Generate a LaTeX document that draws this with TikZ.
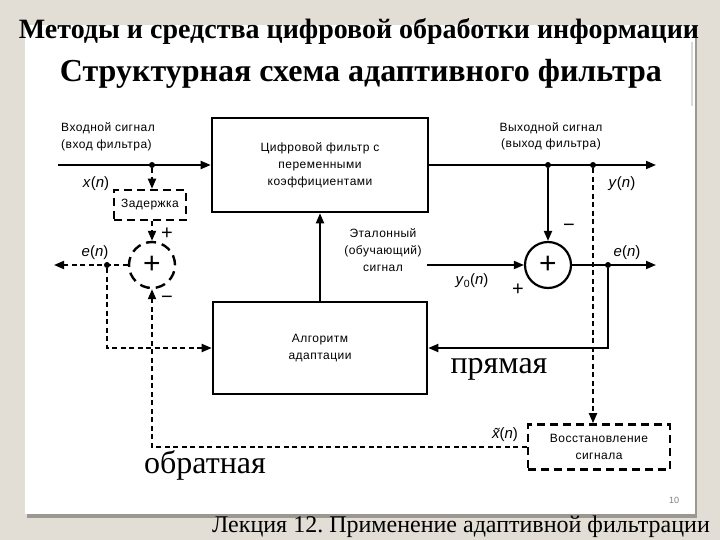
\documentclass[tikz,border=0pt]{standalone}
\usepackage{fontspec}
\setmainfont{Liberation Serif}
\setsansfont{Liberation Sans}[LetterSpace=4]
\newfontfamily\plainsans{Liberation Sans}
\usetikzlibrary{arrows.meta}
\definecolor{slidebg}{HTML}{E3DED5}
\definecolor{shadowc}{HTML}{9A9890}
\begin{document}
\begin{tikzpicture}[x=1pt,y=-1pt,
  blk/.style={draw, line width=2.6pt, minimum width=#1},
  dbox/.style={draw, line width=2.6pt, dash pattern=on 8pt off 5pt},
  sig/.style={line width=1.9pt, -{Triangle[length=10pt,width=8pt]}},
  dsig/.style={line width=1.9pt, dash pattern=on 5pt off 3.5pt, -{Triangle[length=10pt,width=8pt]}},
  lab/.style={font=\sffamily\fontsize{12}{17}\selectfont, align=center, inner sep=0pt},
  sl/.style={font=\plainsans\fontsize{15}{16}\selectfont, inner sep=0pt},
  pm/.style={font=\plainsans\fontsize{20}{20}\selectfont, inner sep=0pt},
  dotc/.style={circle, fill=black, inner sep=0pt, minimum size=6pt},
  sumc/.style={circle, minimum size=46pt, inner sep=0pt, font=\plainsans\fontsize{30}{30}\selectfont}
]
\useasboundingbox (0,0) rectangle (720,540);
\fill[slidebg] (0,0) rectangle (720,540);
% panel
\fill[shadowc] (27,27) rectangle (697,518);
\fill[white] (25,25) rectangle (695,514);
\draw[gray!30, line width=1.2pt] (692,42) -- (692,106);

% titles
\node[font=\bfseries\fontsize{28}{30}\selectfont, inner sep=0pt] (t1) at (359,31) {Методы и средства цифровой обработки информации};
\node[font=\bfseries\fontsize{32}{34}\selectfont, inner sep=0pt] (t2) at (361,74) {Структурная схема адаптивного фильтра};
\node[font=\fontsize{24}{26}\selectfont, inner sep=0pt] (t3) at (461,527) {Лекция 12.\ Применение адаптивной фильтрации};
\node[font=\fontsize{32}{34}\selectfont, inner sep=0pt] (pr) at (499,369) {прямая};
\node[font=\fontsize{32}{34}\selectfont, inner sep=0pt] (ob) at (205,465) {обратная};
\node[font=\plainsans\fontsize{9}{10}\selectfont, text=gray, inner sep=0pt] (num) at (674,500) {10};

% blocks
\node[blk=216pt, minimum height=94pt, lab] (filt) at (320,165) {Цифровой фильтр с\\переменными\\коэффициентами};
\node[blk=214pt, minimum height=92pt, lab] (alg) at (320,348) {Алгоритм\\адаптации};
\node[dbox, minimum width=142pt, minimum height=45pt, lab] (rest) at (599,447) {Восстановление\\сигнала};
\node[dbox, minimum width=72pt, minimum height=30pt, lab] (delay) at (150,205) {Задержка};
\node[sumc, draw, line width=2.4pt, dash pattern=on 10pt off 6pt] (sumL) at (152,265) {+};
\node[sumc, draw, line width=2.2pt] (sumR) at (548,265) {+};

% coordinates
\coordinate (in) at (58,165);
\node[dotc] (jx) at (152,165) {};
\coordinate (outE) at (656,165);
\node[dotc] (jy1) at (548,165) {};
\node[dotc] (jy2) at (593,165) {};
\coordinate (refS) at (427,265);
\coordinate (eRE) at (656,265);
\node[dotc] (jeR) at (608,265) {};
\coordinate (eLE) at (54,265);
\node[dotc] (jeL) at (107,265) {};

% solid connectors
\draw[sig] (in) -- (filt.west);
\draw[sig] (filt.east) -- (outE);
\draw[sig] (jy1) -- (sumR.north);
\draw[sig] (refS) -- (sumR.west);
\draw[sig] (sumR.east) -- (eRE);
\draw[sig] (jeR) |- (alg.east);
\draw[sig] (alg.north) -- (filt.south);

% dashed connectors
\draw[dsig] (jx) -- (jx |- delay.north);
\draw[dsig] (jx |- delay.south) -- (sumL.north);
\draw[dsig] (sumL.west) -- (eLE);
\draw[dsig] (jeL) |- (alg.west);
\draw[dsig] (jy2) -- (jy2 |- rest.north);
\draw[dsig] (rest.west) -| (sumL.south);

% labels
\node[lab, anchor=west] (inl1) at (61,128) {Входной сигнал};
\node[lab, anchor=west] (inl2) at (61,145) {(вход фильтра)};
\node[sl] (xn) at (96,184) {\textit{x}(\textit{n})};
\node[lab] (outl1) at (551,128) {Выходной сигнал};
\node[lab] (outl2) at (551,144) {(выход фильтра)};
\node[sl] (yn) at (622,184) {\textit{y}(\textit{n})};
\node[lab] (refl) at (383,250) {Эталонный\\(обучающий)\\сигнал};
\node[sl] (y0) at (472,281) {\textit{y}\textsubscript{0}(\textit{n})};
\node[pm] (pR) at (518,290) {+};
\node[pm] (mR) at (569,228) {\textminus};
\node[sl] (eR) at (627,253) {\textit{e}(\textit{n})};
\node[sl] (eL) at (95,253) {\textit{e}(\textit{n})};
\node[pm] (pL) at (167,234) {+};
\node[pm] (mL) at (167,300) {\textminus};
\node[sl] (xt) at (505,435) {\textit{\~{x}}(\textit{n})};
\end{tikzpicture}
\end{document}
